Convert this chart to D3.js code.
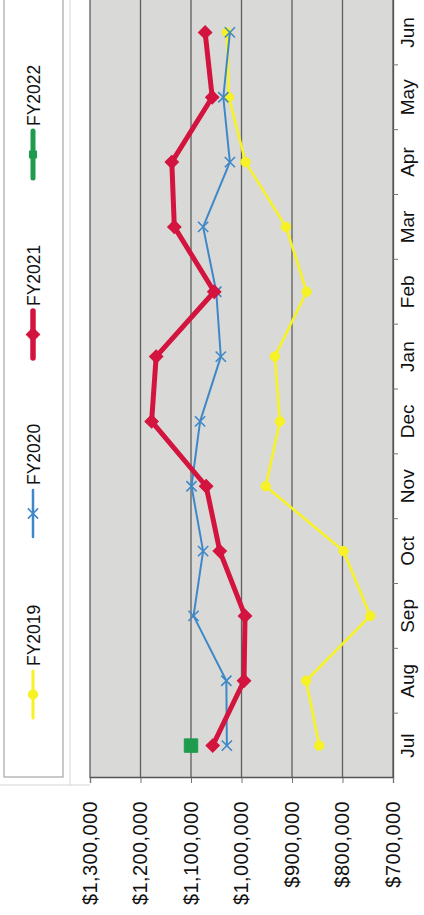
<!DOCTYPE html>
<html>
<head>
<meta charset="utf-8">
<script src="https://cdn.jsdelivr.net/npm/d3@7"></script>
<style>
  body { margin: 0; background: #fff; }
  svg { display: block; font-family: "Liberation Sans", Arial, sans-serif; }
</style>
</head>
<body>
<div id="vis-holder"></div>
<script>
// page is portrait, chart is drawn landscape then turned -90deg
const width = 424;
const height = 915;

// landscape frame
const W = 915, H = 424;
const plot = { left: 137, right: 915, top: 90, bottom: 393 };

const months = ["Jul", "Aug", "Sep", "Oct", "Nov", "Dec", "Jan", "Feb", "Mar", "Apr", "May", "Jun"];
const valueTicks = [700000, 800000, 900000, 1000000, 1100000, 1200000, 1300000];

const fy2019 = [846000, 872000, 745000, 798000, 952000, 924000, 934000, 871000, 912000, 992000, 1025000, 1029000];
const fy2020 = [1029000, 1030000, 1095000, 1076000, 1099000, 1082000, 1041000, 1050000, 1076000, 1023000, 1036000, 1023000];
const fy2021 = [1057000, 995000, 993000, 1043000, 1070000, 1178000, 1169000, 1054000, 1133000, 1138000, 1058000, 1072000];
const fy2022 = [1100000];

const seriesNames = ["FY2019", "FY2020", "FY2021", "FY2022"];
const seriesValues = [fy2019, fy2020, fy2021, fy2022];

const styles = {
  FY2019: { color: "#f7f225", width: 2.6, symbol: "circle", size: 70 },
  FY2020: { color: "#3f88c8", width: 2, symbol: "x", size: 70 },
  FY2021: { color: "#d3143f", width: 5, symbol: "diamond", size: 90 },
  FY2022: { color: "#1e9b4c", width: 3, symbol: "square", size: 180 }
};

const svg = d3.select("#vis-holder")
  .append("svg")
  .attr("width", width)
  .attr("height", height)
  .attr("viewBox", [0, 0, width, height]);

const g = svg.append("g")
  .attr("transform", `translate(0,${height}) rotate(-90)`);

// scales
const x = d3.scaleBand()
  .domain(months)
  .range([plot.left, plot.right]);

const y = d3.scaleLinear()
  .domain([700000, 1300000])
  .range([plot.bottom, plot.top]);

// chart area border (faint)
g.append("line")
  .attr("x1", 130).attr("x2", W)
  .attr("y1", 70).attr("y2", 70)
  .attr("stroke", "#d4d4d4");
g.append("line")
  .attr("x1", 130).attr("x2", 130)
  .attr("y1", 0).attr("y2", 90)
  .attr("stroke", "#d4d4d4");

// plot background
g.append("rect")
  .attr("x", plot.left)
  .attr("y", plot.top)
  .attr("width", plot.right - plot.left)
  .attr("height", plot.bottom - plot.top)
  .attr("fill", "#d9d9d7");

// gridlines
g.append("g")
  .selectAll("line")
  .data(valueTicks)
  .join("line")
  .attr("x1", plot.left)
  .attr("x2", plot.right)
  .attr("y1", d => y(d))
  .attr("y2", d => y(d))
  .attr("stroke", "#5e5e5e")
  .attr("stroke-width", 1.3);

// value axis
g.append("g")
  .attr("transform", `translate(${plot.left},0)`)
  .call(d3.axisLeft(y)
    .tickValues(valueTicks)
    .tickFormat(d3.format("$,"))
    .tickSize(5)
    .tickPadding(18))
  .call(a => a.select(".domain").attr("stroke", "#555").attr("stroke-width", 1.3))
  .call(a => a.selectAll(".tick line").attr("stroke", "#777"))
  .call(a => a.selectAll("text")
    .attr("font-size", "20px")
    .attr("letter-spacing", "0.4px")
    .attr("fill", "#111"));

// category axis
g.append("g")
  .attr("transform", `translate(0,${plot.bottom})`)
  .call(d3.axisBottom(x)
    .tickSize(0)
    .tickPadding(8))
  .call(a => a.select(".domain").attr("stroke", "#555").attr("stroke-width", 1.3))
  .call(a => a.selectAll("text")
    .attr("font-size", "19px")
    .attr("fill", "#111"));

// boundary ticks between months
g.append("g")
  .selectAll("line")
  .data(months.slice(1))
  .join("line")
  .attr("x1", d => x(d))
  .attr("x2", d => x(d))
  .attr("y1", plot.bottom)
  .attr("y2", plot.bottom + 5)
  .attr("stroke", "#777");

function symbolFor(name) {
  const s = styles[name];
  if (s.symbol === "x") return d3.symbol(d3.symbolX, s.size)();
  if (s.symbol === "circle") return d3.symbol(d3.symbolCircle, s.size)();
  return d3.symbol(d3.symbolSquare, s.size)();
}

const line = d3.line()
  .x((d, i) => x(months[i]) + x.bandwidth() / 2)
  .y(d => y(d));

// series
seriesNames.forEach((name, k) => {
  const s = styles[name];
  const vals = seriesValues[k];
  const sg = g.append("g").attr("class", "series");

  if (vals.length > 1) {
    sg.append("path")
      .datum(vals)
      .attr("fill", "none")
      .attr("stroke", s.color)
      .attr("stroke-width", s.width)
      .attr("stroke-linejoin", "round")
      .attr("d", line);
  }

  sg.selectAll(".pt")
    .data(vals)
    .join("path")
    .attr("class", "pt")
    .attr("transform", (d, i) => {
      const px = x(months[i]) + x.bandwidth() / 2;
      const rot = s.symbol === "diamond" ? " rotate(45)" : "";
      return `translate(${px},${y(d)})${rot}`;
    })
    .attr("d", symbolFor(name))
    .attr("fill", s.symbol === "x" ? "none" : s.color)
    .attr("stroke", s.color)
    .attr("stroke-width", s.symbol === "x" ? 1.6 : 1);
});

// legend
const legend = g.append("g");

legend.append("rect")
  .attr("x", 138)
  .attr("y", 4)
  .attr("width", W - 138 + 5)
  .attr("height", 59)
  .attr("fill", "#fff")
  .attr("stroke", "#a6a6a6")
  .attr("stroke-width", 1.2);

const legendX = [197, 378, 557, 737];

seriesNames.forEach((name, k) => {
  const s = styles[name];
  const lg = legend.append("g")
    .attr("transform", `translate(${legendX[k]},33)`);

  lg.append("line")
    .attr("x1", 0).attr("x2", 47)
    .attr("y1", 0).attr("y2", 0)
    .attr("stroke", s.color)
    .attr("stroke-width", s.symbol === "square" ? 5 : s.width + 0.5)
    .attr("stroke-linecap", "round");

  lg.append("path")
    .attr("transform", `translate(23.5,0)${s.symbol === "diamond" ? " rotate(45)" : ""}`)
    .attr("d", s.symbol === "square" ? d3.symbol(d3.symbolSquare, 50)() : symbolFor(name))
    .attr("fill", s.symbol === "x" ? "none" : s.color)
    .attr("stroke", s.color)
    .attr("stroke-width", s.symbol === "x" ? 1.6 : 1);

  lg.append("text")
    .attr("x", 52)
    .attr("y", 7)
    .attr("font-size", "17.5px")
    .attr("fill", "#111")
    .text(name);
});
</script>
</body>
</html>
